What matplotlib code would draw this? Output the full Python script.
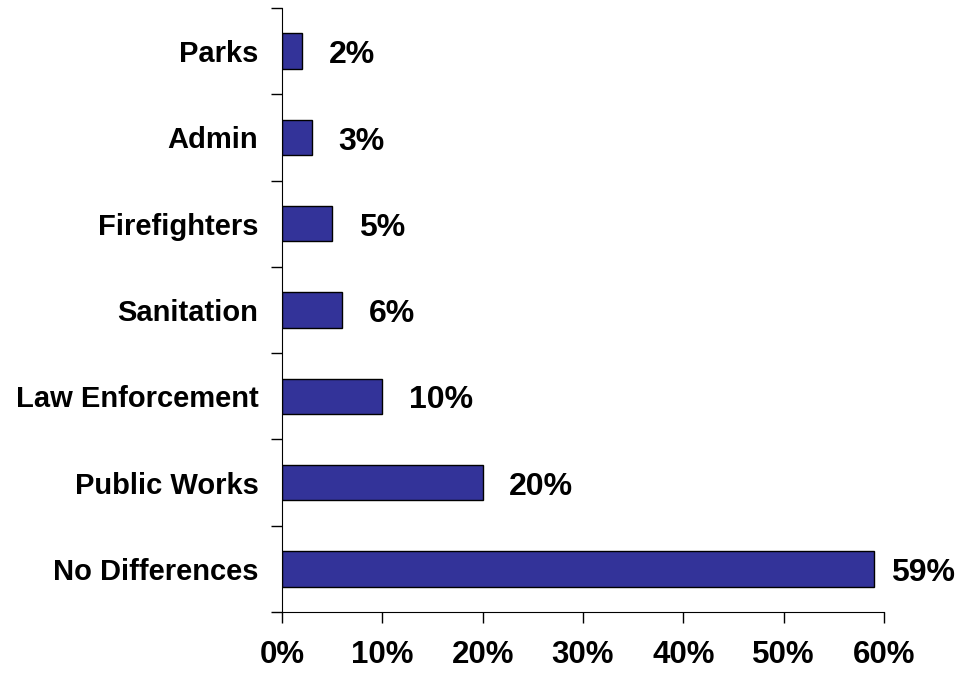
import matplotlib
matplotlib.use("Agg")
import matplotlib.pyplot as plt
from matplotlib.ticker import FuncFormatter

categories = ["No Differences", "Public Works", "Law Enforcement", "Sanitation",
              "Firefighters", "Admin", "Parks"]
values = [59, 20, 10, 6, 5, 3, 2]
xticks = [0, 10, 20, 30, 40, 50, 60]

plt.rcParams["font.family"] = ["Liberation Sans", "DejaVu Sans"]
plt.rcParams["font.weight"] = "bold"

fig = plt.figure(figsize=(9.58, 6.75), dpi=100)
ax = fig.add_axes([282/958, 1-612/675, (884-282)/958, (612-8)/675])

pos = list(range(len(categories)))
ax.barh(pos, values, height=0.41, color="#333399", edgecolor="black", linewidth=1)

labels = []
for p, v in zip(pos, values):
    t = ax.annotate(f"{v}%", (v, p), xytext=(19, -3), textcoords="offset points",
                    ha="left", va="center", fontsize=23, fontweight="bold")
    labels.append(t)

ax.set_xlim(0, 60)
ax.set_ylim(-0.5, len(categories) - 0.5)
ax.set_xticks(xticks)
ax.xaxis.set_major_formatter(FuncFormatter(lambda x, _: f"{x:.0f}%"))
ax.set_yticks([p - 0.5 for p in pos] + [len(categories) - 0.5])
ax.set_yticklabels([])
ax.set_yticks(pos, minor=True)
ax.set_yticklabels(categories, minor=True)
ax.tick_params(axis="y", which="minor", length=0, pad=17, labelsize=21)
ax.tick_params(axis="y", which="major", length=8, width=1, direction="out")
ax.tick_params(axis="x", length=8, width=1, direction="out", labelsize=22.5, pad=12)
for lab in ax.get_xticklabels() + ax.get_yticklabels(minor=True):
    lab.set_fontweight("bold")

ax.spines["top"].set_visible(False)
ax.spines["right"].set_visible(False)

# keep value labels inside the figure
fig.canvas.draw()
renderer = fig.canvas.get_renderer()
for t in labels:
    bb = t.get_window_extent(renderer)
    over = bb.x1 - (fig.bbox.width - 3)
    if over > 0:
        ox, oy = t.xyann
        t.xyann = (ox - over * 72 / fig.dpi, oy)

fig.savefig("out.png", dpi=100)
